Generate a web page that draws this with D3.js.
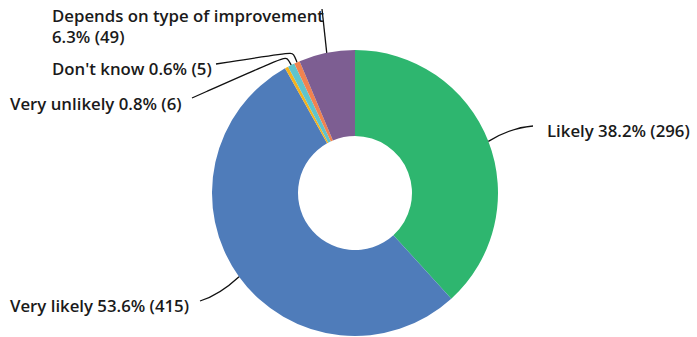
<!DOCTYPE html>
<html>
<head>
<meta charset="utf-8">
<script src="https://cdn.jsdelivr.net/npm/d3@7"></script>
<style>
  body { margin: 0; background: #fff; }
  svg { display: block; }
  .lbl { font-family: "Open Sans", sans-serif; font-size: 16.8px; font-weight: 600; fill: #1a1a1a; }
  .leader { fill: none; stroke: #111; stroke-width: 1.3; }
</style>
</head>
<body>
<svg id="chart"></svg>
<script>
// answers in drawing order (clockwise from 12 o'clock)
const categories = ['Likely', 'Very likely', 'Unlikely', 'Very unlikely', "Don't know", 'Depends on type of improvement'];
const counts = [296, 415, 3, 6, 5, 49];
const colors = ['#2eb66f', '#4f7cba', '#f4b21e', '#5ec4cc', '#f0834f', '#7d5e92'];
const shown = [true, true, false, true, true, true];

const width = 697, height = 337;
const cx = 355, cy = 193, outerR = 143, innerR = 57;

// where each label sits, and the bend points of its leader line
const labelLayout = {
  'Likely': { x: 547, y: 137, path: [[533, 126]], curve: true },
  'Very likely': { x: 10, y: 312, path: [[200, 301]], curve: true },
  'Very unlikely': { x: 10, y: 110, path: [[286, 56], [192, 98]] },
  "Don't know": { x: 52, y: 75, path: [[292, 52], [216, 64]] },
  'Depends on type of improvement': { x: 52, y: 22, path: [[322, 9]], twoLines: true }
};

const total = d3.sum(counts);
const data = categories.map((c, i) => ({ name: c, value: counts[i], color: colors[i], shown: shown[i] }));

const svg = d3.select('#chart')
  .attr('width', width)
  .attr('height', height);

const pie = d3.pie().sort(null).value(d => d.value);
const arcs = pie(data);

const arc = d3.arc().innerRadius(innerR).outerRadius(outerR);
const edge = d3.arc().innerRadius(outerR).outerRadius(outerR);

const g = svg.append('g').attr('transform', `translate(${cx},${cy})`);

g.selectAll('path.slice')
  .data(arcs)
  .enter()
  .append('path')
  .attr('class', 'slice')
  .attr('d', arc)
  .attr('fill', d => d.data.color);

const fmt = d => `${(d.value / total * 100).toFixed(1)}% (${d.value})`;

const labelled = arcs.filter(d => d.data.shown);

svg.selectAll('path.leader')
  .data(labelled)
  .enter()
  .append('path')
  .attr('class', 'leader')
  .attr('d', d => {
    const [ex, ey] = edge.centroid(d);
    const start = [cx + ex, cy + ey];
    const lay = labelLayout[d.data.name];
    const pts = [start].concat(lay.path);
    if (lay.curve) {
      const end = pts[1];
      const mx = (start[0] + end[0]) / 2, my = (start[1] + end[1]) / 2;
      const ctrl = [mx, my + (start[0] > cx ? -6 : 6)];
      return `M${start}Q${ctrl} ${end}`;
    }
    if (pts.length > 2) {
      // small rounded elbow near the slice
      return d3.line().curve(d3.curveBundle.beta(0.95))([start, [pts[1][0] + 3, pts[1][1] + 1], pts[1], ...pts.slice(2)]);
    }
    return d3.line()(pts);
  });

labelled.forEach(d => {
  const lay = labelLayout[d.data.name];
  const t = svg.append('text')
    .attr('class', 'lbl')
    .attr('x', lay.x)
    .attr('y', lay.y);
  if (lay.twoLines) {
    t.append('tspan').attr('x', lay.x).text(d.data.name);
    t.append('tspan').attr('x', lay.x).attr('dy', 21).text(fmt(d.data));
  } else {
    t.text(`${d.data.name} ${fmt(d.data)}`);
  }
});
</script>
</body>
</html>
